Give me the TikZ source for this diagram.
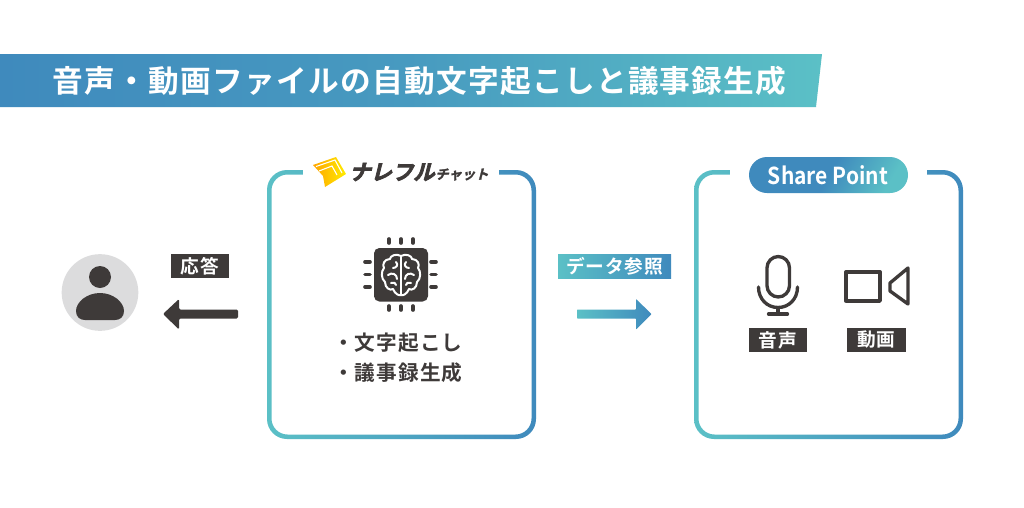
\documentclass[tikz,border=0pt]{standalone}
\usepackage{fontspec}
\setmainfont{Noto Sans CJK JP}[BoldFont={Noto Sans CJK JP Bold}]
\definecolor{tl}{HTML}{5BC0C6}
\definecolor{bl}{HTML}{3F8ABD}
\definecolor{dk}{HTML}{3E3A39}
\definecolor{gy}{HTML}{DCDCDD}
\tikzset{
  tagbox/.style={fill=dk,text=white,font=\fontsize{14}{15}\selectfont\bfseries\addfontfeature{LetterSpace=4},inner sep=0pt,minimum height=18pt,minimum width=44pt},
  iconline/.style={draw=dk,line width=2.5pt,line join=round,line cap=round},
  pin/.style={draw=dk,line width=2.7pt,line cap=round},
  brainline/.style={draw=white,line width=1.5pt,line cap=round,line join=round},
  listtext/.style={text=dk,font=\fontsize{15.5}{16}\selectfont\bfseries\addfontfeature{LetterSpace=5},anchor=west,inner sep=0pt}
}
\begin{document}
\begin{tikzpicture}[x=0.75pt,y=-0.75pt]
\useasboundingbox (0,0) rectangle (1024,507);
\fill[white] (0,0) rectangle (1024,507);
% header
\shade[left color=bl,right color=tl,middle color=bl!70!tl] (0,54) -- (822,54) -- (816,107) -- (0,107) -- cycle;
\node[text=white,font=\fontsize{23}{25}\selectfont\bfseries\addfontfeature{LetterSpace=4.3},anchor=west,inner sep=0pt] (title) at (52,81) {音声・動画ファイルの自動文字起こしと議事録生成};
% box 1
\shade[left color=tl,right color=bl,even odd rule,rounded corners=15pt] (267,170) rectangle (536,439) [rounded corners=12pt] (271.5,174.5) rectangle (531.5,434.5);
\fill[white] (303,165) rectangle (499,180);
% box 2
\shade[left color=tl,right color=bl,even odd rule,rounded corners=15pt] (694,170) rectangle (963,439) [rounded corners=12pt] (698.5,174.5) rectangle (958.5,434.5);
\fill[white] (730,165) rectangle (927,180);
% logo
\shade[left color=orange!70!yellow,right color=yellow!85!orange] (313,165) -- (336,157) -- (346,174) -- (325,187) -- (323,176) -- cycle;
\draw[white,line width=0.8pt] (316,166.5) -- (335,160) -- (342,173);
\draw[white,line width=0.8pt] (319,171) -- (332,166) -- (337,175);
\node[text=dk,font=\fontsize{16}{18}\selectfont\bfseries\addfontfeature{FakeSlant=0.25,FakeBold=3.5},anchor=west,inner sep=0pt] (logoa) at (349,172) {ナレフル};
\node[text=dk,font=\fontsize{10}{11}\selectfont\bfseries\addfontfeature{FakeSlant=0.25,FakeBold=2},anchor=west,inner sep=0pt] (logob) at (435,174.5) {チャット};
% share point pill
\shade[left color=bl,right color=tl,middle color=bl,shading angle=60,rounded corners=13.5pt] (749,157) rectangle (908,193);
\node[text=white,font=\fontsize{17.5}{19}\selectfont\bfseries\addfontfeature{FakeStretch=0.9},inner sep=0pt] (sp) at (828,175.5) {Share Point};
% person
\node[circle,fill=gy,minimum size=57.5pt,inner sep=0pt] (person) at (100,292.5) {};
\fill[dk] (100,277) circle (11);
\fill[dk] (100,293) .. controls (113,293) and (124,302) .. (124,311) .. controls (124,317) and (120,320) .. (115,320) -- (85,320) .. controls (80,320) and (76,317) .. (76,311) .. controls (76,302) and (87,293) .. (100,293) -- cycle;
% reply
\node[tagbox] (reply) at (200,266) {応答};
\fill[dk,rounded corners=1pt] (238,309.5) -- (179,309.5) -- (179,299) -- (163,314) -- (179,329.5) -- (179,318.5) -- (238,318.5) -- cycle;
% chip
\fill[dk,rounded corners=4pt] (374,248) rectangle (428,301.5);
\foreach \c in {389,401,413}{
  \draw[pin] (\c,239) -- (\c,243);
  \draw[pin] (\c,306) -- (\c,310);
}
\foreach \c in {262,274.5,287}{
  \draw[pin] (365,\c) -- (370,\c);
  \draw[pin] (431,\c) -- (436,\c);
}
\draw[brainline] (401,256) -- (401,295);
\draw[brainline] (401,256) .. controls (396,253) and (390,256) .. (390,259) .. controls (384,259) and (382,265) .. (384,268) .. controls (381,271) and (381,279) .. (385,282) .. controls (385,288) and (390,291) .. (393,289) .. controls (395,294) and (399,296) .. (401,295);
\draw[brainline] (401,256) .. controls (406,253) and (412,256) .. (412,259) .. controls (418,259) and (420,265) .. (418,268) .. controls (421,271) and (421,279) .. (417,282) .. controls (417,288) and (412,291) .. (409,289) .. controls (407,294) and (403,296) .. (401,295);
\draw[brainline] (396,262) .. controls (399,265) and (396,268) .. (393,268);
\draw[brainline] (406,262) .. controls (403,265) and (406,268) .. (409,268);
\draw[brainline] (388,275) .. controls (392,272) and (397,274) .. (397,279);
\draw[brainline] (414,275) .. controls (410,272) and (405,274) .. (405,279);
\draw[brainline] (391,283) .. controls (394,283) and (396,282) .. (396,285);
\draw[brainline] (411,283) .. controls (408,283) and (406,282) .. (406,285);
% list
\node[listtext] (l1) at (333,343) {・文字起こし};
\node[listtext] (l2) at (333,373) {・議事録生成};
% data ref
\shade[left color=tl,right color=bl] (558,254) rectangle (671,278);
\node[text=white,font=\fontsize{14}{15}\selectfont\bfseries\addfontfeature{LetterSpace=4},inner sep=0pt] (dref) at (614.5,266) {データ参照};
\shade[left color=tl,right color=bl,rounded corners=0.5pt] (577,309.5) -- (636,309.5) -- (636,299) -- (651.5,314) -- (636,329.5) -- (636,318.5) -- (577,318.5) -- cycle;
% mic
\draw[iconline,rounded corners=8.5pt] (767,256.5) rectangle (789.5,297);
\draw[iconline] (758.5,287) .. controls (758.5,299) and (767,307.5) .. (778,307.5) .. controls (789,307.5) and (797.5,299) .. (797.5,287);
\draw[iconline] (778,307.5) -- (778,314);
\draw[iconline] (768.5,314) -- (787.5,314);
% camera
\draw[iconline] (846,272) rectangle (880,301);
\draw[iconline] (908,268) -- (890,283) -- (890,291) -- (908,304) -- cycle;
% tags
\node[tagbox] (voice) at (778,340) {音声};
\node[tagbox] (video) at (876.5,340) {動画};
\end{tikzpicture}
\end{document}
